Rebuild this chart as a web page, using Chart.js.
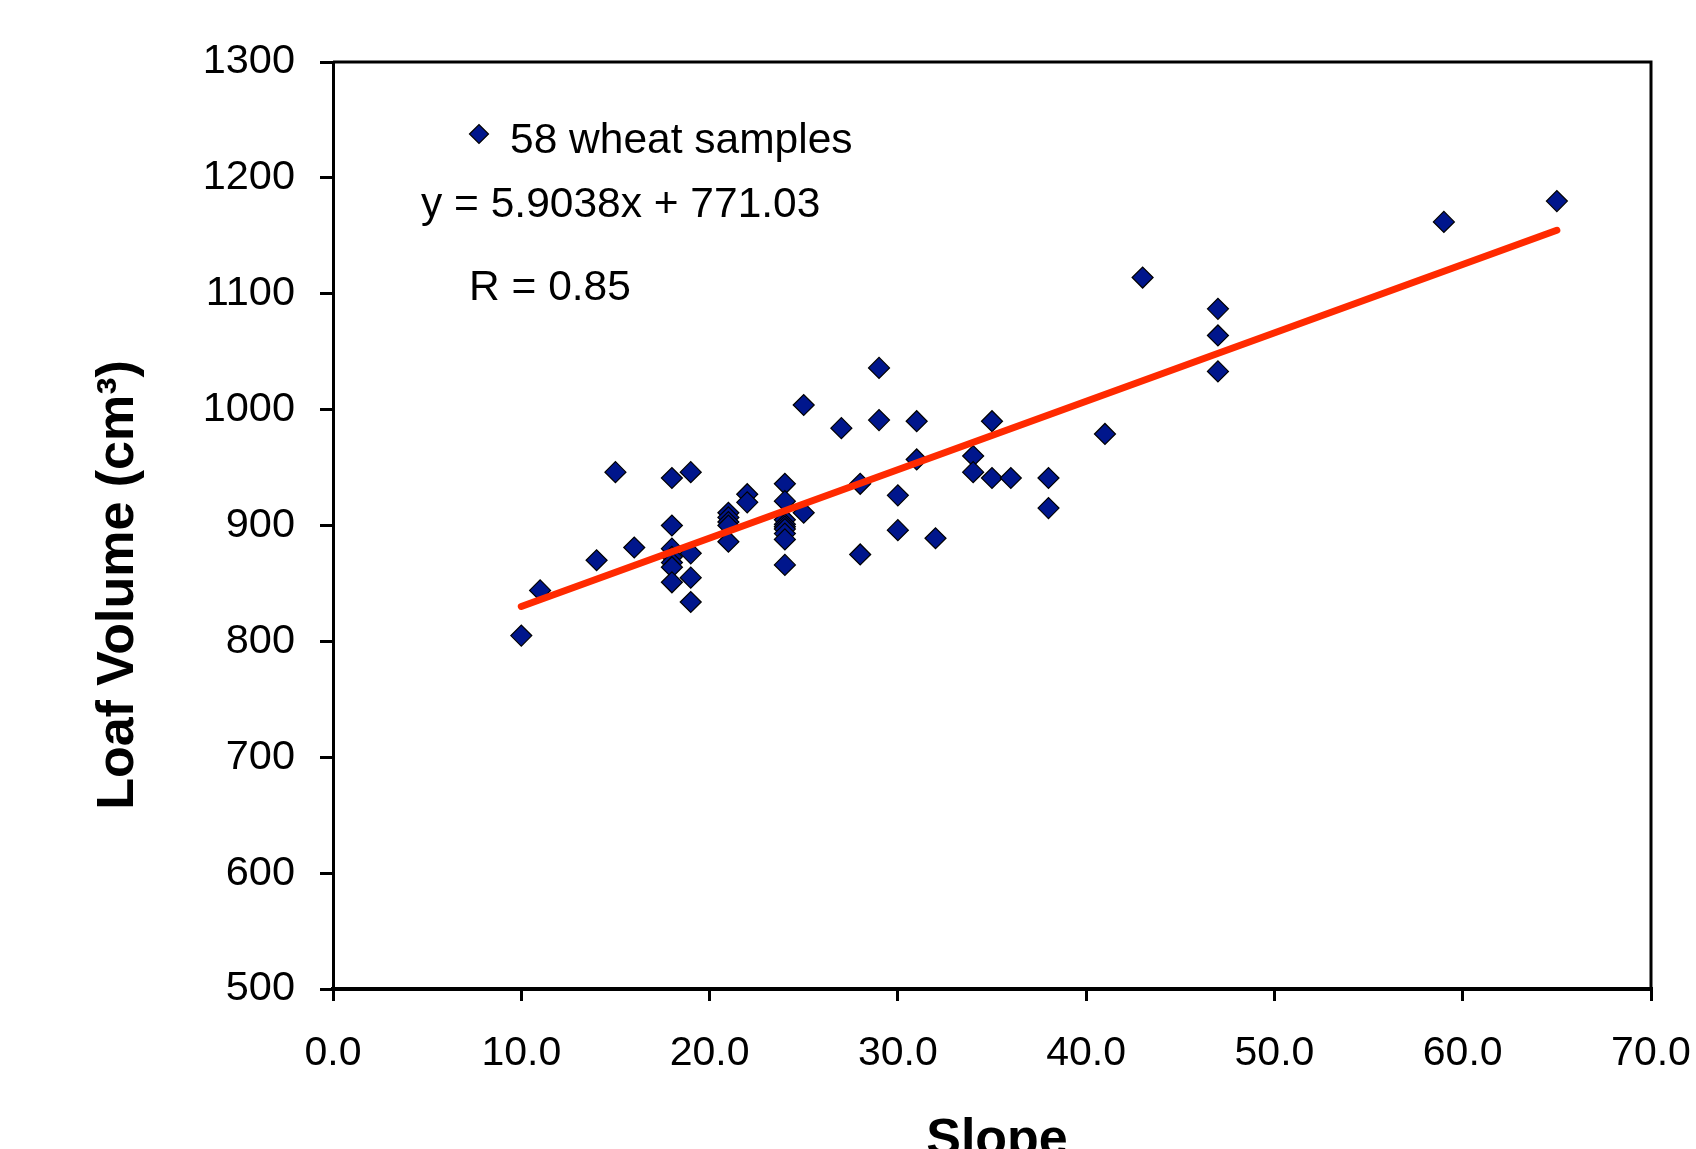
<!DOCTYPE html>
<html>
<head>
<meta charset="utf-8">
<title>Loaf Volume vs Slope</title>
<script src="https://cdn.jsdelivr.net/npm/chart.js@4.4.1/dist/chart.umd.min.js"></script>
<style>
  html, body { margin: 0; padding: 0; background: #fff; }
  #wrap { width: 1696px; height: 1149px; position: relative; }
</style>
</head>
<body>
<div id="wrap"><canvas id="scatterChart" width="1696" height="1149"></canvas></div>
<script>
// Sample values
const slopeValues = [10, 11, 14, 15, 16,
    18, 18, 18, 18, 18, 18, 18,
    19, 19, 19, 19,
    21, 21, 21, 21, 21,
    22, 22,
    24, 24, 24, 24, 24, 24, 24, 24, 24,
    25, 25, 27, 28, 28, 29, 29, 30, 30, 31, 31, 32,
    34, 34, 35, 35, 36, 38, 38, 41, 43, 47, 47, 47, 59, 65];
const loafVolumes = [805, 844, 870, 946, 881,
    941, 900, 880, 873, 868, 864, 851,
    946, 876, 855, 834,
    911, 907, 903, 900, 886,
    927, 920,
    936, 921, 905, 901, 899, 897, 893, 888, 866,
    1004, 911, 984, 936, 875, 1036, 991, 926, 896, 990, 957, 889,
    960, 946, 990, 941, 941, 941, 915, 979, 1114, 1087, 1064, 1033, 1162, 1180];

// Trend line end points (y = 5.9038x + 771.03)
const trendX = [10, 65];
const trendY = [830.1, 1154.8];

const xTicks = [0, 10, 20, 30, 40, 50, 60, 70];
const yTicks = [500, 600, 700, 800, 900, 1000, 1100, 1200, 1300];

const seriesLabel = '58 wheat samples';
const equationText = 'y = 5.9038x + 771.03';
const rText = 'R = 0.85';
const xTitle = 'Slope';
const yTitle = 'Loaf Volume (cm\u00B3)';

const FONT = '"Liberation Sans", Arial, sans-serif';
const MARKER_FILL = '#00168C';

// Legend, annotations, frame and axis titles
const overlayPlugin = {
    id: 'overlay',
    afterDraw(chart) {
        const ctx = chart.ctx;
        const area = chart.chartArea;
        ctx.save();

        // top and right frame
        ctx.strokeStyle = '#000';
        ctx.lineWidth = 3;
        ctx.beginPath();
        ctx.moveTo(area.left, area.top);
        ctx.lineTo(area.right, area.top);
        ctx.lineTo(area.right, area.bottom);
        ctx.stroke();

        // legend marker
        const mx = 479, my = 134, mr = 9.5;
        ctx.fillStyle = MARKER_FILL;
        ctx.strokeStyle = '#000';
        ctx.lineWidth = 1.2;
        ctx.beginPath();
        ctx.moveTo(mx - mr, my);
        ctx.lineTo(mx, my - mr);
        ctx.lineTo(mx + mr, my);
        ctx.lineTo(mx, my + mr);
        ctx.closePath();
        ctx.fill();
        ctx.stroke();

        ctx.fillStyle = '#000';
        ctx.font = '42.5px ' + FONT;
        ctx.textAlign = 'left';
        ctx.textBaseline = 'alphabetic';
        ctx.fillText(seriesLabel, 510, 153);
        ctx.fillText(equationText, 421, 217);
        ctx.fillText(rText, 469, 300);

        // axis titles
        ctx.font = 'bold 52px ' + FONT;
        ctx.textAlign = 'center';
        ctx.fillText(xTitle, 997, 1155);

        ctx.translate(133, 585);
        ctx.rotate(-Math.PI / 2);
        ctx.fillText(yTitle, 0, 0);
        ctx.restore();
    }
};

const ctx = document.getElementById('scatterChart').getContext('2d');
const scatterChart = new Chart(ctx, {
    type: 'scatter',
    data: {
        datasets: [{
            type: 'line',
            label: 'trend',
            data: trendX.map((x, i) => ({ x: x, y: trendY[i] })),
            borderColor: '#FF2A00',
            borderWidth: 7,
            borderCapStyle: 'round',
            pointRadius: 0,
            fill: false,
            order: 0
        }, {
            label: seriesLabel,
            data: slopeValues.map((x, i) => ({ x: x, y: loafVolumes[i] })),
            pointStyle: 'rectRot',
            pointRadius: 10.5,
            pointHoverRadius: 10.5,
            backgroundColor: MARKER_FILL,
            borderColor: '#000',
            borderWidth: 1.2,
            order: 1
        }]
    },
    options: {
        responsive: false,
        animation: false,
        events: [],
        layout: { padding: { left: 0, top: 62, right: 45, bottom: 0 } },
        plugins: {
            legend: { display: false },
            tooltip: { enabled: false }
        },
        scales: {
            x: {
                type: 'linear',
                min: 0,
                max: 70,
                afterBuildTicks: (scale) => { scale.ticks = xTicks.map(v => ({ value: v })); },
                afterFit: (scale) => {
                    scale.height = 160;
                    scale.paddingLeft = 0;
                    scale.paddingRight = 0;
                },
                border: { display: true, color: '#000', width: 4 },
                grid: { drawOnChartArea: false, drawTicks: true, tickLength: 12, color: '#000', lineWidth: 3 },
                ticks: {
                    color: '#000',
                    padding: 28,
                    maxRotation: 0,
                    font: { family: FONT, size: 41 },
                    callback: (v) => Number(v).toFixed(1)
                }
            },
            y: {
                type: 'linear',
                min: 500,
                max: 1300,
                afterBuildTicks: (scale) => { scale.ticks = yTicks.map(v => ({ value: v })); },
                afterFit: (scale) => {
                    scale.width = 333;
                    scale.paddingTop = 0;
                    scale.paddingBottom = 0;
                },
                border: { display: true, color: '#000', width: 3 },
                grid: { drawOnChartArea: false, drawTicks: true, tickLength: 13, color: '#000', lineWidth: 3 },
                ticks: {
                    color: '#000',
                    padding: 25,
                    font: { family: FONT, size: 41.5 },
                    callback: (v) => String(v)
                }
            }
        }
    },
    plugins: [overlayPlugin]
});
</script>
</body>
</html>
